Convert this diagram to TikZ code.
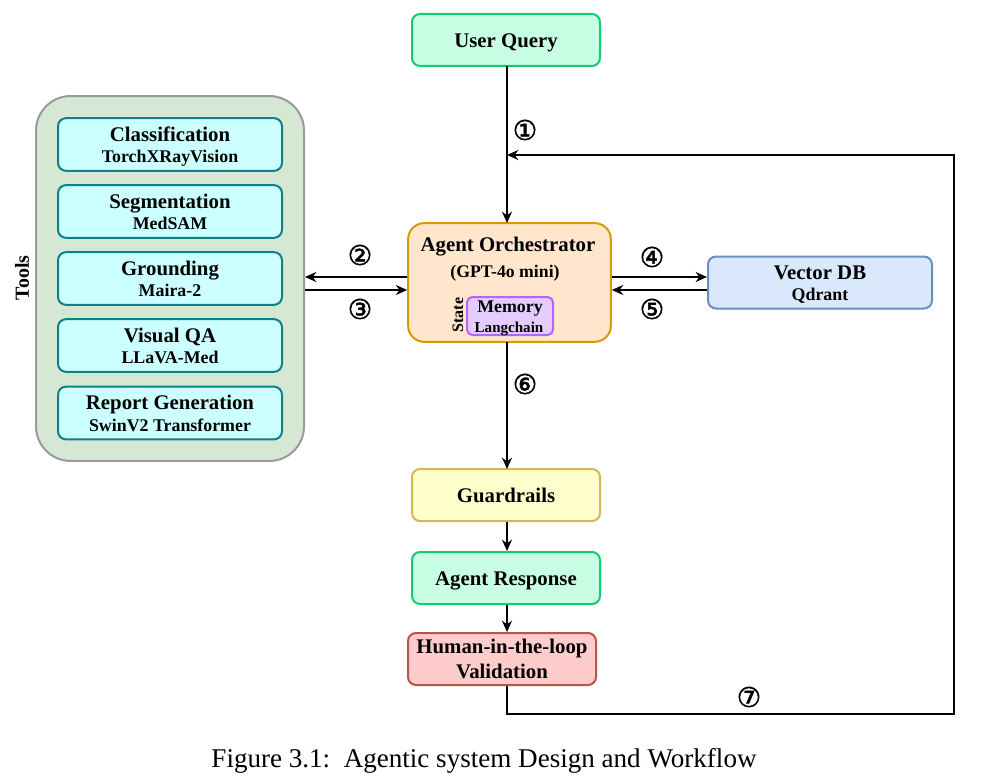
\documentclass[tikz,border=0pt]{standalone}
\usepackage{fontspec}
\setmainfont{Liberation Serif}
\newfontfamily\circfont[FakeBold=1.6]{DejaVu Sans}
\usetikzlibrary{arrows.meta}
\definecolor{qfill}{HTML}{C8FFE4}\definecolor{qline}{HTML}{12CC72}
\definecolor{tfill}{HTML}{D5E8D4}\definecolor{tline}{HTML}{9A9A9A}
\definecolor{cfill}{HTML}{CCFFFF}\definecolor{cline}{HTML}{0E8088}
\definecolor{afill}{HTML}{FFE6CC}\definecolor{aline}{HTML}{D79B00}
\definecolor{mfill}{HTML}{E5CCFF}\definecolor{mline}{HTML}{B266FF}
\definecolor{vfill}{HTML}{DAE8FC}\definecolor{vline}{HTML}{6C8EBF}
\definecolor{gfill}{HTML}{FFFFCC}\definecolor{gline}{HTML}{D6B656}
\definecolor{hfill}{HTML}{FFCCCC}\definecolor{hline}{HTML}{B85450}
\tikzset{
  x=0.75pt,y=-0.75pt,
  pbox/.style={rounded corners=6pt,line width=1.5pt,inner sep=0pt,align=center,font=\fontsize{15.6pt}{18pt}\selectfont\bfseries},
  querybox/.style={pbox,draw=qline,fill=qfill,minimum width=141pt,minimum height=39pt},
  toolbox/.style={pbox,draw=cline,fill=cfill,minimum width=168pt,minimum height=39.5pt},
  conn/.style={line width=1.5pt,-{Stealth[length=8.5pt,width=7.5pt]}},
  num/.style={inner sep=0pt,font=\fontsize{20.5pt}{20pt}\circfont},
  lbl/.style={inner sep=0pt,align=center,font=\fontsize{15.6pt}{18pt}\selectfont\bfseries}
}
\newcommand{\low}[2]{\raisebox{-#1}[\height][\depth]{#2}}
\newcommand{\ttl}[2]{\low{2pt}{\begin{tabular}{@{}c@{}}#1\\[-1.6pt]{\fontsize{13.4pt}{15pt}\selectfont #2}\end{tabular}}}
\begin{document}
\begin{tikzpicture}
\useasboundingbox (0,0) rectangle (1002,784);
\node[querybox] (query) at (506,40) {\low{2.2pt}{User Query}};
\node[draw=tline,fill=tfill,line width=1.5pt,rounded corners=26pt,minimum width=201pt,minimum height=273.7pt,inner sep=0pt] (tools) at (170,278.5) {};
\node[lbl,rotate=90,font=\fontsize{15pt}{15pt}\selectfont\bfseries] (toolslbl) at (22,278) {Tools};
\node[toolbox] (t1) at (170,144.5) {\ttl{Classification}{TorchXRayVision}};
\node[toolbox] (t2) at (170,211.5) {\ttl{Segmentation}{MedSAM}};
\node[toolbox] (t3) at (170,278.5) {\ttl{Grounding}{Maira-2}};
\node[toolbox] (t4) at (170,345.5) {\ttl{Visual QA}{LLaVA-Med}};
\node[toolbox] (t5) at (170,413) {\ttl{Report Generation}{SwinV2 Transformer}};
\node[pbox,draw=aline,fill=afill,minimum width=152pt,minimum height=89pt,rounded corners=12pt] (agent) at (509.5,282.5) {};
\node[lbl] (agentlbl) at (508,247) {Agent Orchestrator};
\node[lbl,font=\fontsize{13.3pt}{15pt}\selectfont\bfseries] (gpt) at (505,273) {(GPT-4o mini)};
\node[pbox,draw=mline,fill=mfill,minimum width=64.5pt,minimum height=28.5pt,rounded corners=4pt] (mem) at (510,316) {};
\node[lbl,font=\fontsize{13.4pt}{15pt}\selectfont\bfseries] (memlbl) at (510,309) {Memory};
\node[lbl,font=\fontsize{11.3pt}{12pt}\selectfont\bfseries] (lang) at (509,329) {Langchain};
\node[lbl,rotate=90,font=\fontsize{12pt}{12pt}\selectfont\bfseries] (state) at (458,315) {State};
\node[pbox,draw=vline,fill=vfill,minimum width=168pt,minimum height=39pt] (vdb) at (820,282.5) {\ttl{Vector DB}{Qdrant}};
\node[pbox,draw=gline,fill=gfill,minimum width=141pt,minimum height=39pt] (guard) at (506,495) {Guardrails};
\node[querybox] (resp) at (506,578) {\low{2.2pt}{Agent Response}};
\node[pbox,draw=hline,fill=hfill,minimum width=141pt,minimum height=39pt] (hitl) at (502,659) {\low{1.8pt}{\begin{tabular}{@{}c@{}}Human-in-the-loop\\[1pt]Validation\end{tabular}}};
\coordinate (ya) at (0,277);
\coordinate (yb) at (0,290);
\coordinate (fb) at (507,155);
\coordinate (c1) at (507,714);
\coordinate (c2) at (954,714);
\coordinate (c3) at (954,155);
\coordinate (qs) at (507,66);
\coordinate (as) at (507,342);
\coordinate (at) at (507,223);
\coordinate (gt) at (507,469);
\draw[conn] (qs) -- (at);
\draw[conn] (agent.west |- ya) -- (tools.east |- ya);
\draw[conn] (tools.east |- yb) -- (agent.west |- yb);
\draw[conn] (agent.east |- ya) -- (vdb.west |- ya);
\draw[conn] (vdb.west |- yb) -- (agent.east |- yb);
\draw[conn] (as) -- (gt);
\draw[conn] (guard.south -| gt) -- (resp.north -| gt);
\draw[conn] (resp.south -| gt) -- (hitl.north -| gt);
\draw[conn] (hitl.south -| gt) -- (c1) -- (c2) -- (c3) -- (fb);
\node[num] (n1) at (525,130) {①};
\node[num] (n2) at (360,255) {②};
\node[num] (n3) at (360,309) {③};
\node[num] (n4) at (652,257) {④};
\node[num] (n5) at (652,309) {⑤};
\node[num] (n6) at (525,384) {⑥};
\node[num] (n7) at (749,697) {⑦};
\node[inner sep=0pt,font=\fontsize{20.3pt}{22pt}\selectfont] (cap) at (484,761) {Figure 3.1:\ \ Agentic system Design and Workflow};
\end{tikzpicture}
\end{document}
